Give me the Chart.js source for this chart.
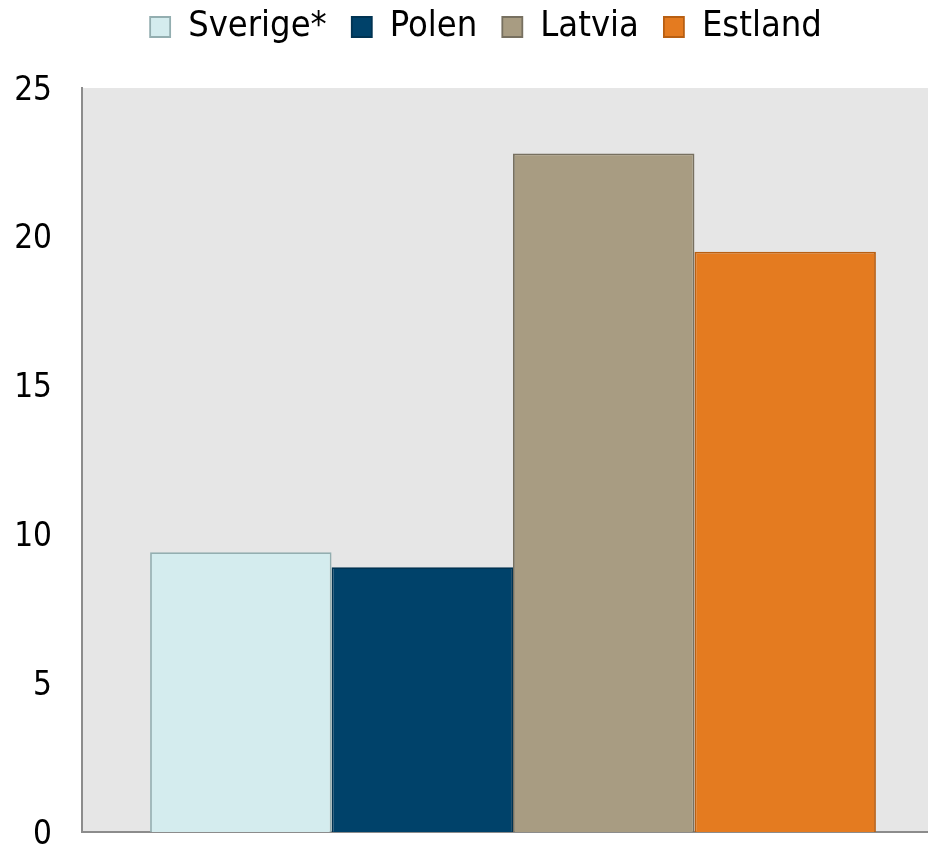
<!DOCTYPE html>
<html>
<head>
    <meta charset="utf-8">
    <title>Sverige Polen Latvia Estland</title>
    <script src="https://cdn.jsdelivr.net/npm/chart.js"></script>
    <style>
        html, body {
            margin: 0;
            padding: 0;
            background: #ffffff;
            overflow: hidden;
        }
    </style>
</head>
<body>
    <canvas id="myChart" width="972" height="846"></canvas>
    <script>
        // data
        var categories = [''];
        var seriesNames = ['Sverige*', 'Polen', 'Latvia', 'Estland'];
        var seriesValues = [[9.4], [8.9], [22.8], [19.5]];
        var fillColors = ['#d4ecee', '#00426a', '#a89c82', '#e47b20'];
        var lineColors = ['#93aeb0', '#003352', '#777060', '#b85f12'];
        var yTicks = [0, 5, 10, 15, 20, 25];

        var fontName = '"DejaVu Sans Condensed", "DejaVu Sans", Tahoma, sans-serif';

        // grey plot background
        var plotBg = {
            id: 'plotBg',
            beforeDraw: function (chart) {
                var a = chart.chartArea;
                var c = chart.ctx;
                c.save();
                c.fillStyle = '#e6e6e6';
                c.fillRect(a.left, a.top, a.right - a.left, a.bottom - a.top);
                c.restore();
            }
        };

        var datasets = seriesNames.map(function (name, i) {
            return {
                label: name,
                data: seriesValues[i],
                backgroundColor: fillColors[i],
                borderColor: lineColors[i],
                borderWidth: 1.8,
                categoryPercentage: 0.842,
                barPercentage: 1.0
            };
        });

        var ctx = document.getElementById('myChart').getContext('2d');
        var chart = new Chart(ctx, {
            type: 'bar',
            data: { labels: categories, datasets: datasets },
            options: {
                responsive: false,
                animation: false,
                layout: { padding: { left: 0, right: 0, top: -16, bottom: 14 } },
                plugins: {
                    legend: {
                        position: 'top',
                        labels: {
                            boxWidth: 20,
                            boxHeight: 20,
                            padding: 25,
                            color: '#000000',
                            font: { family: fontName, size: 36 }
                        }
                    },
                    // empty title used as a gap under the legend
                    title: {
                        display: true,
                        text: '',
                        weight: 500,
                        font: { size: 10, lineHeight: 1 },
                        padding: { top: 0, bottom: 23 }
                    },
                    tooltip: { enabled: false }
                },
                scales: {
                    x: {
                        grid: { display: false, drawTicks: false },
                        border: { display: true, color: '#8c8c8c', width: 2 },
                        ticks: { display: false },
                        afterFit: function (scale) { scale.height = 0; }
                    },
                    y: {
                        min: 0,
                        max: 25,
                        afterBuildTicks: function (scale) {
                            scale.ticks = yTicks.map(function (v) { return { value: v }; });
                        },
                        afterFit: function (scale) { scale.width = 82; },
                        grid: { display: false, drawTicks: true, tickLength: 27 },
                        border: { display: true, color: '#8c8c8c', width: 2 },
                        ticks: {
                            padding: 3,
                            labelOffset: 3,
                            color: '#000000',
                            font: { family: fontName, size: 33, lineHeight: 0.6 }
                        }
                    },
                    // empty axis on the right, keeps the plot off the canvas edge
                    y2: {
                        position: 'right',
                        grid: { display: false, drawTicks: false },
                        border: { display: false },
                        ticks: { display: false },
                        afterFit: function (scale) { scale.width = 28; }
                    }
                }
            },
            plugins: [plotBg]
        });
    </script>
</body>
</html>
